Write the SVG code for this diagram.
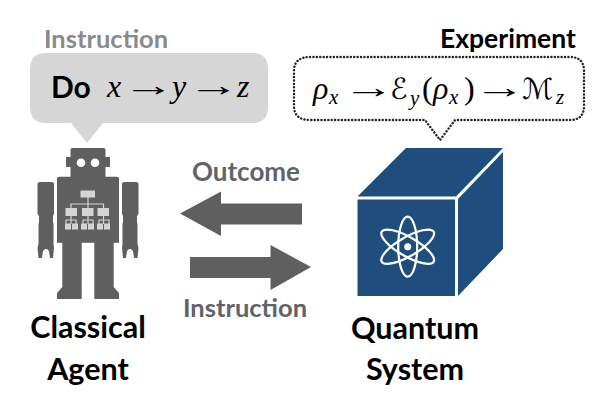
<svg xmlns="http://www.w3.org/2000/svg" width="598" height="402" viewBox="0 0 598 402">
<style>
.lab{font-family:Lato,"Open Sans",sans-serif;font-weight:700}
.gr{fill:#5f6468}
.big{fill:#000;font-size:30.500px;text-anchor:middle}
.m{font-family:"Liberation Serif",serif;font-style:italic;fill:#000;font-size:32px}
.up{font-family:"Liberation Serif",serif;fill:#000;font-size:32px}
.s{font-family:"Liberation Serif",serif;font-style:italic;fill:#000;font-size:21px}
.sc{font-family:"DejaVu Sans",sans-serif;fill:#000;font-size:29px}
.ar{font-family:"Liberation Serif",serif;fill:#000;font-size:28px;letter-spacing:-8px}
.org{fill:#d4d4d4}
.orgl{stroke:#d4d4d4;stroke-width:1.2;fill:none}
.dark{fill:#5f5f5f}
.at{fill:none;stroke:#fff;stroke-width:2.2}
</style>
<rect width="598" height="402" fill="#fff"/>
<g id="connectors">
<polygon class="dark" points="180,213.5 221,191.5 221,203.5 302,203.5 302,224.5 221,224.5 221,236"/>
<polygon class="dark" points="311,267 270.500,245 270.500,257 190,257 190,278 270.500,278 270.500,290"/>
</g>
<g id="instruction-bubble">
<path fill="#d6d6d6" d="M46,53H252Q268,53 268,69V107Q268,123 252,123H103L87,143L71,123H46Q30,123 30,107V69Q30,53 46,53Z"/>
<text class="lab" x="44" y="48" style="fill:#8a8a8a;font-size:25.500px">Instruction</text>
<text class="lab" x="51" y="98" font-size="30" fill="#000">Do</text>
<text class="m" x="107" y="97">x</text>
<text class="ar" transform="translate(123 96) scale(1.85 1.1)">→</text>
<text class="m" x="172" y="97">y</text>
<text class="ar" transform="translate(188 96) scale(1.85 1.1)">→</text>
<text class="m" x="237" y="97">z</text>
</g>
<g id="experiment-bubble">
<path fill="#fff" stroke="#222" stroke-width="2.4" stroke-dasharray="0.1 3.3" stroke-linecap="round" d="M310,57H570Q584,57 584,71V106Q584,120 570,120H455L440,140L425,120H310Q294,120 294,106V71Q294,57 310,57Z"/>
<text class="lab" x="440" y="48" font-size="26.500" fill="#000">Experiment</text>
<text class="m" x="313" y="99">ρ</text><text class="s" x="329" y="104">x</text>
<text class="ar" transform="translate(343 98) scale(1.85 1.1)">→</text>
<text class="sc" x="390" y="99">ℰ</text><text class="s" x="410" y="105">y</text>
<text class="up" x="422" y="99">(</text>
<text class="m" x="433" y="99">ρ</text><text class="s" x="449" y="104">x</text>
<text class="up" x="464" y="99">)</text>
<text class="ar" transform="translate(474 98) scale(1.85 1.1)">→</text>
<text class="sc" x="522" y="99">ℳ</text><text class="s" x="556" y="104">z</text>
</g>
<g id="classical-agent">
<path class="dark" d="M72,148H104Q105.500,148 105.500,150V157H110V167H105.500V176.700H117Q119,176.700 119,179V242.700H113.700V287L119,293V299H94.300V242.700H81.700V299H57V293L62.300,287V242.700H57V179Q57,176.700 59,176.700H70.500V167H66V157H70.500V150Q70.500,148 72,148Z"/>
<path class="dark" d="M40,182H51.500Q54,182 54,184V214L53,216V222L53.500,224V244L54,248L53,258H50L49,251L47,249H45L43,251L42,258H38.500L37.500,248L38.500,244V224L39,222V216L37.500,214V184Q37.500,182 40,182Z"/>
<path class="dark" d="M124.500,182H136Q138.500,182 138.500,184V214L137,216V222L137.500,224V244L138.500,248L137.500,258H134L133,251L131,249H129L127,251L126,258H123L122,248L122.500,244V224L123,222V216L122,214V184Q122,182 124.500,182Z"/>
<circle cx="81" cy="162.700" r="4.300" fill="#fff"/><circle cx="95" cy="162.700" r="4.300" fill="#fff"/>
<path class="orgl" d="M88,197V208M71,208V204H103.500V208M71,216V224M88,216V224M103.500,216V224M66,224V220H76V224M83,224V220H93V224M99,224V220H109V224"/>
<rect class="org" x="80.500" y="190.500" width="14.500" height="7"/>
<rect class="org" x="65.500" y="208" width="11.500" height="8"/><rect class="org" x="82" y="208" width="11.500" height="8"/><rect class="org" x="97.500" y="208" width="11.500" height="8"/>
<rect class="org" x="65" y="223.500" width="6" height="6"/><rect class="org" x="72" y="223.500" width="6" height="6"/><rect class="org" x="81" y="223.500" width="6" height="6"/><rect class="org" x="88" y="223.500" width="6" height="6"/><rect class="org" x="97" y="223.500" width="6" height="6"/><rect class="org" x="104" y="223.500" width="6" height="6"/>
<text class="lab big" x="88" y="338">Classical</text>
<text class="lab big" x="88" y="380">Agent</text>
</g>
<g id="quantum-system">
<polygon fill="#1f4e7e" points="357.500,196.500 406,148 503,148 456,196.500"/>
<polygon fill="#1f4e7e" points="458,199 503,152 503,249 458,296"/>
<rect x="357.500" y="199.500" width="97.500" height="96.500" fill="#1f4e7e"/>
<ellipse class="at" cx="407.700" cy="246.700" rx="9.500" ry="30"/>
<ellipse class="at" cx="407.700" cy="246.700" rx="9.500" ry="30" transform="rotate(60 407.700 246.700)"/>
<ellipse class="at" cx="407.700" cy="246.700" rx="9.500" ry="30" transform="rotate(-60 407.700 246.700)"/>
<circle cx="407.700" cy="246.700" r="3.500" fill="#fff"/>
<text class="lab big" x="415" y="339">Quantum</text>
<text class="lab big" x="415" y="380">System</text>
</g>
<text class="lab gr" x="246" y="181" text-anchor="middle" font-size="26">Outcome</text>
<text class="lab gr" x="245" y="317" text-anchor="middle" font-size="25.500">Instruction</text>
</svg>
